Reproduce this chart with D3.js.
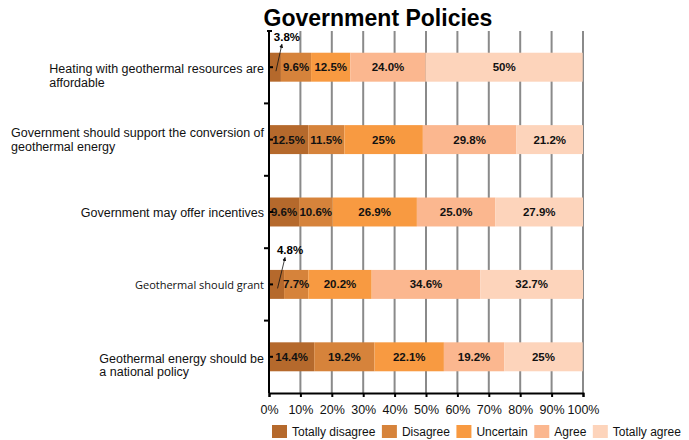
<!DOCTYPE html>
<html>
<head>
<meta charset="utf-8">
<script src="https://cdn.jsdelivr.net/npm/d3@7"></script>
<style>
  body { margin: 0; background: #fff; }
  text { font-family: "Liberation Sans", Arial, sans-serif; }
</style>
</head>
<body>
<svg id="chart" width="689" height="440"></svg>
<script>
// categories, top to bottom
var questions = [
  "Heating with geothermal resources are affordable",
  "Government should support the conversion of geothermal energy",
  "Government may offer incentives",
  "Geothermal should grant",
  "Geothermal energy should be a national policy"
];
var questionLines = [
  ["Heating with geothermal resources are", "affordable"],
  ["Government should support the conversion of", "geothermal energy"],
  ["Government may offer incentives"],
  ["Geothermal should grant"],
  ["Geothermal energy should be", "a national policy"]
];
var answers = ["Totally disagree", "Disagree", "Uncertain", "Agree", "Totally agree"];
var colors = ["#b5692c", "#d6833b", "#f89a41", "#fbb78f", "#fdd4bb"];

// percentages per question, in answer order
var totallyDisagree = [3.8, 12.5, 9.6, 4.8, 14.4];
var disagree        = [9.6, 11.5, 10.6, 7.7, 19.2];
var uncertain       = [12.5, 25, 26.9, 20.2, 22.1];
var agree           = [24.0, 29.8, 25.0, 34.6, 19.2];
var totallyAgree    = [50, 21.2, 27.9, 32.7, 25];

// labels as printed on the chart
var labelText = [
  ["3.8%", "9.6%", "12.5%", "24.0%", "50%"],
  ["12.5%", "11.5%", "25%", "29.8%", "21.2%"],
  ["9.6%", "10.6%", "26.9%", "25.0%", "27.9%"],
  ["4.8%", "7.7%", "20.2%", "34.6%", "32.7%"],
  ["14.4%", "19.2%", "22.1%", "19.2%", "25%"]
];
var xTicks = [0, 10, 20, 30, 40, 50, 60, 70, 80, 90, 100];

var margin = {l: 269, t: 31, r: 106, b: 47};
var width = 689, height = 440;
var svg = d3.select("#chart");
var plotW = width - margin.l - margin.r,
    plotH = height - margin.t - margin.b;

var series = [totallyDisagree, disagree, uncertain, agree, totallyAgree];
var rows = questions.map(function(q, i) {
  var row = {q: q, i: i};
  answers.forEach(function(a, j) { row[a] = series[j][i]; });
  return row;
});
var stacked = d3.stack().keys(answers)(rows);

var x = d3.scaleLinear().domain([0, 100]).range([0, plotW]);
var y = d3.scaleBand().domain(questions).range([0, plotH]).paddingInner(0.6).paddingOuter(0.3);
var yOuter = d3.scaleBand().domain(questions).range([0, plotH]);

var g = svg.append("g").attr("transform", "translate(" + margin.l + "," + margin.t + ")");

// title
svg.append("text")
  .attr("x", 378).attr("y", 26)
  .attr("text-anchor", "middle")
  .style("font-size", "23px").style("font-weight", "bold")
  .text("Government Policies");

// grid lines
g.selectAll(".grid").data(xTicks.slice(1)).enter()
  .append("line")
  .attr("x1", function(d){ return x(d); }).attr("x2", function(d){ return x(d); })
  .attr("y1", 0).attr("y2", plotH)
  .attr("stroke", "#8a8a8a").attr("stroke-width", 2);

// bars
var layer = g.selectAll(".layer").data(stacked).enter()
  .append("g").attr("fill", function(d, i){ return colors[i]; });
layer.selectAll("rect").data(function(d){ return d; }).enter()
  .append("rect")
  .attr("x", function(d){ return x(d[0]); })
  .attr("y", function(d){ return y(d.data.q); })
  .attr("width", function(d){ return x(d[1]) - x(d[0]); })
  .attr("height", y.bandwidth());

// value labels
stacked.forEach(function(s, j) {
  s.forEach(function(d, i) {
    if (d[1] - d[0] < 5) return;
    g.append("text")
      .attr("x", x((d[0] + d[1]) / 2))
      .attr("y", y(d.data.q) + y.bandwidth() / 2)
      .attr("dy", "0.35em")
      .attr("text-anchor", "middle")
      .style("font-size", "11.5px").style("font-weight", "bold")
      .attr("fill", "#111")
      .text(labelText[i][j]);
  });
});

// call-outs for the thin slices
svg.append("defs").append("marker")
  .attr("id", "arrow").attr("viewBox", "0 0 10 10")
  .attr("refX", 9).attr("refY", 5)
  .attr("markerWidth", 5).attr("markerHeight", 5)
  .attr("orient", "auto")
  .append("path").attr("d", "M0,0L10,5L0,10z").attr("fill", "#111");
var callouts = [{row: 0, dy: -30}, {row: 3, dy: -34}];
callouts.forEach(function(c) {
  var d = stacked[0][c.row];
  var cy = y(questions[c.row]) + y.bandwidth() / 2;
  var lx = x(d[1]) + 6;
  g.append("text")
    .attr("x", lx).attr("y", cy + c.dy).attr("dy", "0.35em")
    .attr("text-anchor", "middle")
    .style("font-size", "11.5px").style("font-weight", "bold")
    .text(labelText[c.row][0]);
  g.append("line")
    .attr("x1", x(d[1]) / 2 + 1).attr("y1", cy + 4)
    .attr("x2", lx - 5).attr("y2", cy + c.dy + 7)
    .attr("stroke", "#111").attr("stroke-width", 0.8)
    .attr("marker-end", "url(#arrow)");
});

// left axis
g.append("line").attr("x1", 0).attr("x2", 0).attr("y1", 0).attr("y2", plotH)
  .attr("stroke", "#000").attr("stroke-width", 2);
g.append("line").attr("x1", -2).attr("x2", 3).attr("y1", 0).attr("y2", 0)
  .attr("stroke", "#000").attr("stroke-width", 2);
g.selectAll(".bt").data(questions.slice(1)).enter()
  .append("line")
  .attr("x1", -5).attr("x2", 0)
  .attr("y1", function(d){ return yOuter(d); }).attr("y2", function(d){ return yOuter(d); })
  .attr("stroke", "#000").attr("stroke-width", 2);
g.selectAll(".ct").data(questions).enter()
  .append("line")
  .attr("x1", 0).attr("x2", 4)
  .attr("y1", function(d){ return y(d) + y.bandwidth() / 2; })
  .attr("y2", function(d){ return y(d) + y.bandwidth() / 2; })
  .attr("stroke", "#000").attr("stroke-width", 2);

// category labels (left aligned block, right edge at axis)
var lineOffsets = [[1, 15], [-7, 7.5], [1], [1], [2, 15]];
questionLines.forEach(function(lines, i) {
  var cy = y(questions[i]) + y.bandwidth() / 2;
  var narrow = i === 3;
  var tg = g.append("g");
  var texts = lines.map(function(l, k) {
    return tg.append("text")
      .attr("y", cy + lineOffsets[i][k]).attr("dy", "0.35em")
      .style("font-size", narrow ? "11px" : "12.5px")
      .style("font-family", narrow ? "'Open Sans', sans-serif" : null)
      .attr("fill", "#111")
      .text(l);
  });
  var maxW = d3.max(texts, function(t){ return t.node().getComputedTextLength(); });
  texts.forEach(function(t){ t.attr("x", -5 - maxW); });
});

// bottom axis
var xAxis = g.append("g").attr("transform", "translate(0," + plotH + ")")
  .call(d3.axisBottom(x).tickValues(xTicks).tickFormat(function(d){ return d + "%"; }).tickSize(4).tickPadding(8));
xAxis.select(".domain").attr("stroke", "#000").attr("stroke-width", 2);
xAxis.selectAll(".tick line").attr("stroke", "#000").attr("stroke-width", 2);
xAxis.selectAll(".tick text").style("font-size", "12.5px").attr("fill", "#111")
  .style("font-family", "'Liberation Sans', Arial, sans-serif");

// legend
var legend = svg.append("g").attr("transform", "translate(272,425)");
var lx = 0;
answers.forEach(function(a, i) {
  legend.append("rect").attr("x", lx).attr("y", 0).attr("width", 15).attr("height", 13).attr("fill", colors[i]);
  var t = legend.append("text").attr("x", lx + 20).attr("y", 6.5).attr("dy", "0.35em")
    .style("font-size", "12px").attr("fill", "#111").text(a);
  lx += 20 + t.node().getComputedTextLength() + 6.5;
});
</script>
</body>
</html>
